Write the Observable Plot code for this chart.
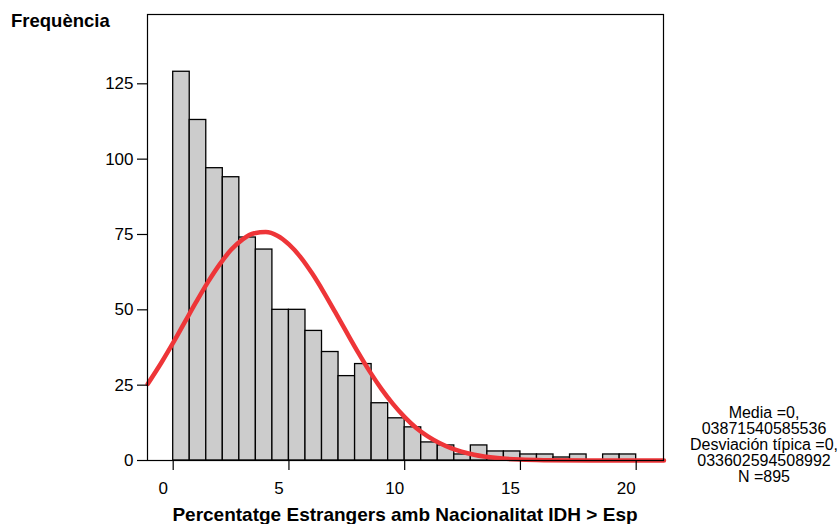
<!DOCTYPE html>
<html>
<head>
<meta charset="utf-8">
<script src="https://cdn.jsdelivr.net/npm/d3@7"></script>
<script src="https://cdn.jsdelivr.net/npm/@observablehq/plot@0.6"></script>
<style>
  body { margin: 0; background: #fff; }
  #chart svg { display: block; }
</style>
</head>
<body>
<div id="chart"></div>
<script>
// Histogram: 28 bins of equal width between 0 and 20
const binCount = 28;
const binRange = [0, 20];
const counts = [129, 113, 97, 94, 74, 70, 50, 50, 43, 36, 28, 32, 19, 14, 11, 6, 5, 2, 5, 3, 3, 2, 2, 1, 2, 0, 2, 2];

// Fitted normal curve
const curveX = [-1.1, -0.5, 0, 0.5, 1, 1.5, 2, 2.5, 3, 3.5, 4, 4.5, 5, 5.5, 6, 6.5, 7, 7.5, 8, 8.5, 9, 9.5, 10, 10.5, 11, 11.5, 12, 13, 14, 15, 16, 18, 21.2];
const curveY = [25.4, 32.6, 39.1, 45.9, 52.7, 59.2, 65.0, 69.9, 73.4, 75.4, 75.8, 74.6, 71.7, 67.5, 62.1, 55.9, 49.2, 42.4, 35.7, 29.4, 23.7, 18.7, 14.4, 10.8, 8.0, 5.8, 4.1, 1.9, 0.8, 0.3, 0.1, 0, 0];

const xTicks = [0, 5, 10, 15, 20];
const yTicks = [0, 25, 50, 75, 100, 125];
const xDomain = [-1.11, 21.18];
const yDomain = [0, 148];

const yTitle = "Frequència";
const xTitle = "Percentatge Estrangers amb Nacionalitat IDH > Esp";
const statsLines = ["Media =0,", "03871540585536", "Desviación típica =0,", "033602594508992", "N =895"];

const binWidth = (binRange[1] - binRange[0]) / binCount;
const bins = counts.map((c, i) => ({x1: binRange[0] + i * binWidth, x2: binRange[0] + (i + 1) * binWidth, count: c}));
const curve = curveX.map((x, i) => ({x, y: curveY[i]}));

const W = 838, H = 524;
const mL = 147, mR = 175, mT = 14, mB = 64;

const chart = Plot.plot({
  width: W, height: H,
  marginLeft: mL, marginRight: mR, marginTop: mT, marginBottom: mB,
  style: {fontFamily: "'Liberation Sans', Arial, sans-serif", fontSize: "17px", color: "#000", background: "#fff", overflow: "visible"},
  x: {domain: xDomain},
  y: {domain: yDomain},
  marks: [
    Plot.rectY(bins, {x1: "x1", x2: "x2", y: "count", fill: "#cccccc", stroke: "#000", strokeWidth: 1.3, inset: 0}),
    Plot.line(curve, {x: "x", y: "y", stroke: "#ee3538", strokeWidth: 4.5, curve: "monotone-x"}),
    Plot.frame({stroke: "#000", strokeWidth: 1.2}),
    Plot.axisX({ticks: xTicks, tickSize: 10, tickFormat: () => "", label: null, strokeWidth: 1.2}),
    Plot.axisX({ticks: xTicks, tickSize: 0, tickPadding: 21, dx: -10, label: null, fontSize: 17}),
    Plot.axisY({ticks: yTicks, tickSize: 10, tickPadding: 4, label: null, fontSize: 17, strokeWidth: 1.2})
  ]
});

document.getElementById("chart").appendChild(chart);

const svg = d3.select(chart);
const font = "'Liberation Sans', Arial, sans-serif";

svg.append("text")
  .attr("x", 11).attr("y", 27)
  .attr("text-anchor", "start")
  .attr("font-family", font).attr("font-size", 18.5).attr("font-weight", "bold")
  .attr("fill", "#000")
  .text(yTitle);

svg.append("text")
  .attr("x", (mL + (W - mR)) / 2).attr("y", 521)
  .attr("text-anchor", "middle")
  .attr("font-family", font).attr("font-size", 19).attr("font-weight", "bold")
  .attr("fill", "#000")
  .text(xTitle);

const stats = svg.append("text")
  .attr("font-family", font).attr("font-size", 16)
  .attr("text-anchor", "middle").attr("fill", "#000");
statsLines.forEach((s, i) => {
  stats.append("tspan").attr("x", 764).attr("y", 418 + i * 16).text(s);
});
</script>
</body>
</html>
